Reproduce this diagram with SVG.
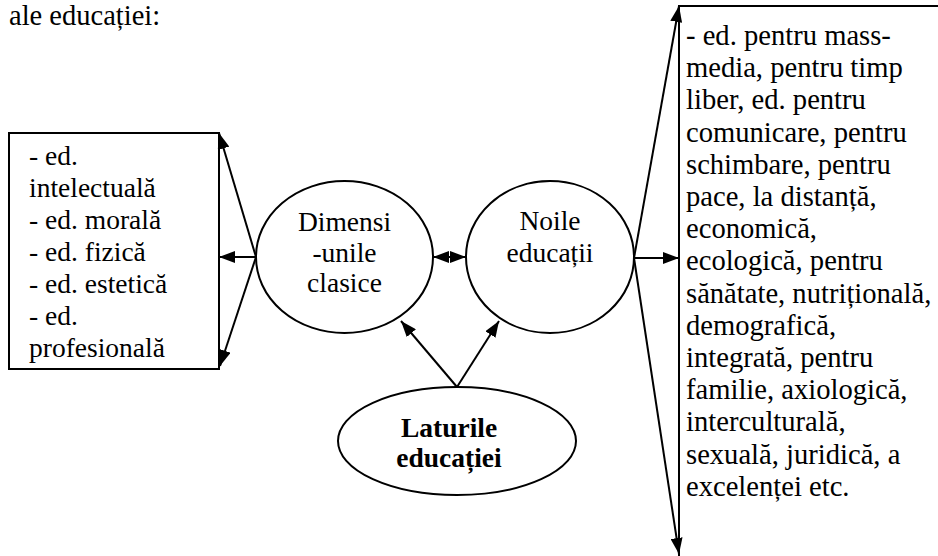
<svg xmlns="http://www.w3.org/2000/svg" width="938" height="556" viewBox="0 0 938 556">
  <style>
    .t { font-family: "Liberation Serif", "Times New Roman", serif; font-size: 27.5px; fill: #000; }
    .r { font-size: 28.6px; }
    .c { text-anchor: middle; }
    .b { font-weight: bold; }
    .shape { fill: #fff; stroke: #000; stroke-width: 2; }
    .ln { stroke: #000; stroke-width: 2; fill: none; marker-end: url(#head); }
  </style>
  <defs>
    <marker id="head" markerUnits="userSpaceOnUse" markerWidth="16" markerHeight="12" refX="16" refY="6" orient="auto">
      <path d="M0,0 L16,6 L0,12 z" fill="#000"/>
    </marker>
  </defs>

  <rect width="938" height="556" fill="#fff"/>

  <text class="t" x="9" y="25" style="font-size:28.5px">ale educației:</text>

  <g id="clasice-list">
    <rect class="shape" x="9" y="133" width="210" height="236"/>
    <text class="t" x="29" y="165">- ed.</text>
    <text class="t" x="29" y="197">intelectuală</text>
    <text class="t" x="29" y="229">- ed. morală</text>
    <text class="t" x="29" y="261">- ed. fizică</text>
    <text class="t" x="29" y="293">- ed. estetică</text>
    <text class="t" x="29" y="325">- ed.</text>
    <text class="t" x="29" y="357">profesională</text>
  </g>

  <g id="noi-list">
    <path class="shape" d="M938,6 L679,6 L679,600" fill="none"/>
    <text class="t r" x="686" y="45">- ed. pentru mass-</text>
    <text class="t r" x="686" y="77.2">media, pentru timp</text>
    <text class="t r" x="686" y="109.4">liber, ed. pentru</text>
    <text class="t r" x="686" y="141.6">comunicare, pentru</text>
    <text class="t r" x="686" y="173.8">schimbare, pentru</text>
    <text class="t r" x="686" y="206">pace, la distanță,</text>
    <text class="t r" x="686" y="238.2">economică,</text>
    <text class="t r" x="686" y="270.4">ecologică, pentru</text>
    <text class="t r" x="686" y="302.6">sănătate, nutrițională,</text>
    <text class="t r" x="686" y="334.8">demografică,</text>
    <text class="t r" x="686" y="367">integrată, pentru</text>
    <text class="t r" x="686" y="399.2">familie, axiologică,</text>
    <text class="t r" x="686" y="431.4">interculturală,</text>
    <text class="t r" x="686" y="463.6">sexuală, juridică,  a</text>
    <text class="t r" x="686" y="495.8">excelenței etc.</text>
  </g>

  <g id="dimensiuni">
    <ellipse class="shape" cx="344.5" cy="257" rx="88.5" ry="76"/>
    <text class="t c" x="344.5" y="231">Dimensi</text>
    <text class="t c" x="344.5" y="261.5">-unile</text>
    <text class="t c" x="344.5" y="292">clasice</text>
  </g>

  <g id="noile">
    <ellipse class="shape" cx="550" cy="257" rx="84" ry="76"/>
    <text class="t c" x="550" y="230">Noile</text>
    <text class="t c" x="550" y="262">educații</text>
  </g>

  <g id="laturile">
    <ellipse class="shape" cx="457" cy="441" rx="119" ry="54"/>
    <text class="t c b" x="449" y="437">Laturile</text>
    <text class="t c b" x="449" y="467">educației</text>
  </g>

  <g id="connectors">
    <line class="ln" x1="256" y1="257" x2="219" y2="133"/>
    <line class="ln" x1="256" y1="257" x2="219" y2="257"/>
    <line class="ln" x1="256" y1="257" x2="220" y2="366"/>
    <line class="ln" x1="450" y1="257" x2="433" y2="257"/>
    <line class="ln" x1="450" y1="257" x2="466" y2="257"/>
    <line class="ln" x1="457" y1="387" x2="401" y2="321"/>
    <line class="ln" x1="457" y1="387" x2="499" y2="321"/>
    <line class="ln" x1="634" y1="258" x2="679" y2="6"/>
    <line class="ln" x1="634" y1="258" x2="679" y2="258"/>
    <line class="ln" x1="634" y1="258" x2="679" y2="554"/>
  </g>
</svg>
